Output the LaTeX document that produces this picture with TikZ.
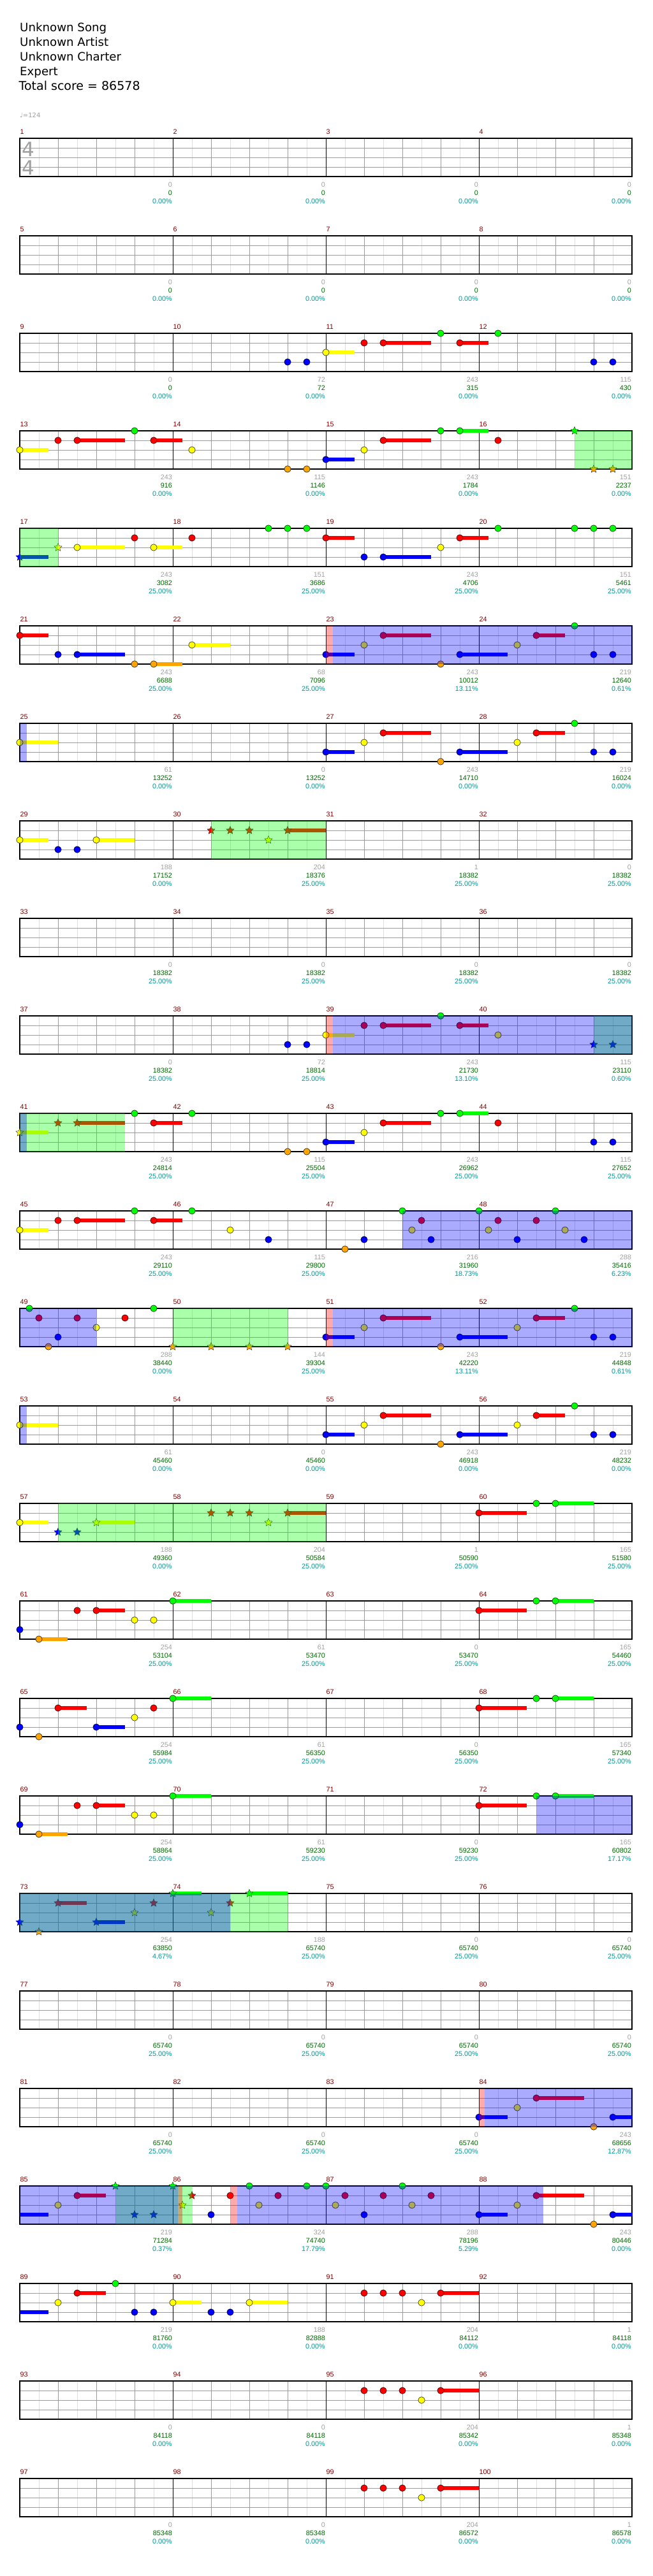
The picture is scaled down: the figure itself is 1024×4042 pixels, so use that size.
\documentclass[tikz,border=0pt]{standalone}
\usepackage{fontspec}
\setmainfont{DejaVu Sans}
\newfontfamily\numfont{Liberation Sans}
\usepackage{xcolor}
\usepackage{tikz}
\usetikzlibrary{shapes.geometric}
\definecolor{gg}{RGB}{0,255,0}
\definecolor{gr}{RGB}{255,0,0}
\definecolor{gy}{RGB}{255,255,0}
\definecolor{gb}{RGB}{0,0,255}
\definecolor{go}{RGB}{255,165,0}
\definecolor{barred}{RGB}{128,0,0}
\definecolor{gaingray}{RGB}{160,160,160}
\definecolor{totalgreen}{RGB}{0,100,0}
\definecolor{pctteal}{RGB}{0,150,150}

\tikzset{
  header/.style={anchor=base west, inner sep=0pt, font=\fontsize{18.2}{22}\selectfont},
  tempo/.style={anchor=base west, inner sep=0pt, text=gaingray, font=\fontsize{10}{12}\selectfont},
  timesig/.style={anchor=base west, inner sep=0pt, text=gaingray, font=\fontsize{31}{31}\selectfont},
  halfline/.style={draw={rgb,255:red,222;green,222;blue,222}, line width=0.9pt},
  beatline/.style={draw={rgb,255:red,155;green,155;blue,155}, line width=0.9pt},
  laneline/.style={draw={rgb,255:red,155;green,155;blue,155}, line width=0.9pt},
  barline/.style={draw=black, line width=0.9pt},
  staffbox/.style={draw=black, line width=1.3pt},
  gem/.style={draw=black, line width=0.5pt},
  starnote/.style={star, star points=5, star point ratio=2.2, minimum size=13pt,
    inner sep=0pt, draw=black!85, line width=0.4pt},
  spfill/.style={fill=gg, fill opacity=0.333},
  odfill/.style={fill=gb, fill opacity=0.333},
  odstartfill/.style={fill=gr, fill opacity=0.333},
  barnum/.style={anchor=base west, inner sep=0pt, text=barred, font=\numfont\fontsize{10.8}{12}\selectfont},
  ptsgain/.style={anchor=base east, inner sep=0pt, text=gaingray, font=\numfont\fontsize{10.8}{12}\selectfont},
  ptstotal/.style={anchor=base east, inner sep=0pt, text=totalgreen, font=\numfont\fontsize{10.8}{12}\selectfont},
  ptspct/.style={anchor=base east, inner sep=0pt, text=pctteal, font=\numfont\fontsize{10.8}{12}\selectfont},
}

% one eighth = 30, one lane = 15
\newcommand{\tails}[1]{\foreach \a/\b/\l/\c in {#1}
  \fill[\c] ({30*\a},{15*\l-3.4}) rectangle ({30*\b},{15*\l+3.4});}
\newcommand{\gems}[1]{\foreach \e/\l/\c in {#1}
  \filldraw[gem, fill=\c] ({30*\e},{15*\l}) circle (5.2);}
\newcommand{\stars}[2]{\foreach \e/\l/\c [count=\i] in {#2}
  \node[starnote, fill=\c] (star#1-\i) at ({30*\e},{15*\l}) {};}
\newcommand{\spzone}[2]{\fill[spfill] ({30*#1},0) rectangle ({30*#2},60);}
\newcommand{\odzone}[2]{\fill[odfill] ({30*#1},0) rectangle ({30*#2},60);}
\newcommand{\odstart}[2]{\fill[odstartfill] ({30*#1},0) rectangle ({30*#2},60);}

\begin{document}
\begin{tikzpicture}[x=1pt, y=-1pt]
  \useasboundingbox (0,0) rectangle (1024,4042);
  \fill[white] (0,0) rectangle (1024,4042);

  % Song info
  \node[header] (song) at (31,49) {Unknown Song};
  \node[header] (artist) at (31,72) {Unknown Artist};
  \node[header] (charter) at (31,95) {Unknown Charter};
  \node[header] (level) at (31,118) {Expert};
  \node[header, font=\fontsize{19}{23}\selectfont] (total) at (29.5,141) {Total score = 86578};
  \node[tempo] (bpm) at (31,184) {♩=124};

  % Staves
  \foreach \r in {0,...,24}{
    \begin{scope}[shift={(31,{217+153*\r})}]
      \foreach \k in {0,...,15} \draw[halfline] ({60*\k+30},0) -- ({60*\k+30},60);
      \foreach \k in {1,...,15} \draw[beatline] ({60*\k},0) -- ({60*\k},60);
      \foreach \k in {1,2,3} \draw[laneline] (0,{15*\k}) -- (960,{15*\k});
      \foreach \k in {1,2,3} \draw[barline] ({240*\k},0) -- ({240*\k},60);
      \draw[staffbox] (0,0) rectangle (960,60);
    \end{scope}
  }
  \node[timesig] (tsupper) at (34,245) {4};
  \node[timesig] (tslower) at (34,274) {4};

  % Measure numbers and scores
  \foreach \m/\gain/\sum/\pct in {
    1/0/0/0.00, 2/0/0/0.00, 3/0/0/0.00, 4/0/0/0.00,
    5/0/0/0.00, 6/0/0/0.00, 7/0/0/0.00, 8/0/0/0.00,
    9/0/0/0.00, 10/72/72/0.00, 11/243/315/0.00, 12/115/430/0.00,
    13/243/916/0.00, 14/115/1146/0.00, 15/243/1784/0.00, 16/151/2237/0.00,
    17/243/3082/25.00, 18/151/3686/25.00, 19/243/4706/25.00, 20/151/5461/25.00,
    21/243/6688/25.00, 22/68/7096/25.00, 23/243/10012/13.11, 24/219/12640/0.61,
    25/61/13252/0.00, 26/0/13252/0.00, 27/243/14710/0.00, 28/219/16024/0.00,
    29/188/17152/0.00, 30/204/18376/25.00, 31/1/18382/25.00, 32/0/18382/25.00,
    33/0/18382/25.00, 34/0/18382/25.00, 35/0/18382/25.00, 36/0/18382/25.00,
    37/0/18382/25.00, 38/72/18814/25.00, 39/243/21730/13.10, 40/115/23110/0.60,
    41/243/24814/25.00, 42/115/25504/25.00, 43/243/26962/25.00, 44/115/27652/25.00,
    45/243/29110/25.00, 46/115/29800/25.00, 47/216/31960/18.73, 48/288/35416/6.23,
    49/288/38440/0.00, 50/144/39304/25.00, 51/243/42220/13.11, 52/219/44848/0.61,
    53/61/45460/0.00, 54/0/45460/0.00, 55/243/46918/0.00, 56/219/48232/0.00,
    57/188/49360/0.00, 58/204/50584/25.00, 59/1/50590/25.00, 60/165/51580/25.00,
    61/254/53104/25.00, 62/61/53470/25.00, 63/0/53470/25.00, 64/165/54460/25.00,
    65/254/55984/25.00, 66/61/56350/25.00, 67/0/56350/25.00, 68/165/57340/25.00,
    69/254/58864/25.00, 70/61/59230/25.00, 71/0/59230/25.00, 72/165/60802/17.17,
    73/254/63850/4.67, 74/188/65740/25.00, 75/0/65740/25.00, 76/0/65740/25.00,
    77/0/65740/25.00, 78/0/65740/25.00, 79/0/65740/25.00, 80/0/65740/25.00,
    81/0/65740/25.00, 82/0/65740/25.00, 83/0/65740/25.00, 84/243/68656/12.87,
    85/219/71284/0.37, 86/324/74740/17.79, 87/288/78196/5.29, 88/243/80446/0.00,
    89/219/81760/0.00, 90/188/82888/0.00, 91/204/84112/0.00, 92/1/84118/0.00,
    93/0/84118/0.00, 94/0/84118/0.00, 95/204/85342/0.00, 96/1/85348/0.00,
    97/0/85348/0.00, 98/0/85348/0.00, 99/204/86572/0.00, 100/1/86578/0.00}{
    \pgfmathtruncatemacro\row{(\m-1)/4}
    \pgfmathtruncatemacro\col{\m-1-4*\row}
    \node[barnum] (num\m) at ({31+240*\col+0.5},{217+153*\row-7}) {\m};
    \node[ptsgain] (gain\m) at ({31+240*(\col+1)-1},{217+153*\row+76}) {\gain};
    \node[ptstotal] (sum\m) at ({31+240*(\col+1)-1},{217+153*\row+89}) {\sum};
    \node[ptspct] (pct\m) at ({31+240*(\col+1)-1},{217+153*\row+102}) {\pct\%};
  }

  % Measures 9-12
  \begin{scope}[shift={(31,{217+153*2})}]
    \tails{16/17.5/2/gy, 19/21.5/1/gr, 23/24.5/1/gr}
    \gems{14/3/gb, 15/3/gb, 16/2/gy, 18/1/gr, 19/1/gr, 22/0/gg, 23/1/gr, 25/0/gg, 30/3/gb, 31/3/gb}
  \end{scope}

  % Measures 13-16
  \begin{scope}[shift={(31,{217+153*3})}]
    \tails{0/1.5/2/gy, 3/5.5/1/gr, 7/8.5/1/gr, 16/17.5/3/gb, 19/21.5/1/gr, 23/24.5/0/gg}
    \gems{0/2/gy, 2/1/gr, 3/1/gr, 6/0/gg, 7/1/gr, 9/2/gy, 14/4/go, 15/4/go, 16/3/gb, 18/2/gy, 19/1/gr, 22/0/gg, 23/0/gg, 25/1/gr}
    \stars{3}{29/0/gg, 30/4/go, 31/4/go}
    \spzone{29}{32}
  \end{scope}

  % Measures 17-20
  \begin{scope}[shift={(31,{217+153*4})}]
    \tails{0/1.5/3/gb, 3/5.5/2/gy, 7/8.5/2/gy, 16/17.5/1/gr, 19/21.5/3/gb, 23/24.5/1/gr}
    \gems{3/2/gy, 6/1/gr, 7/2/gy, 9/1/gr, 13/0/gg, 14/0/gg, 15/0/gg, 16/1/gr, 18/3/gb, 19/3/gb, 22/2/gy, 23/1/gr, 25/0/gg, 29/0/gg, 30/0/gg, 31/0/gg}
    \stars{4}{0/3/gb, 2/2/gy}
    \spzone{0}{2}
  \end{scope}

  % Measures 21-24
  \begin{scope}[shift={(31,{217+153*5})}]
    \tails{0/1.5/1/gr, 3/5.5/3/gb, 7/8.5/4/go, 9/11/2/gy, 16/17.5/3/gb, 19/21.5/1/gr, 23/25.5/3/gb, 27/28.5/1/gr}
    \gems{0/1/gr, 2/3/gb, 3/3/gb, 6/4/go, 7/4/go, 9/2/gy, 16/3/gb, 18/2/gy, 19/1/gr, 22/4/go, 23/3/gb, 26/2/gy, 27/1/gr, 29/0/gg, 30/3/gb, 31/3/gb}
    \odstart{16}{16.37}
    \odzone{16.37}{32}
  \end{scope}

  % Measures 25-28
  \begin{scope}[shift={(31,{217+153*6})}]
    \tails{0/2/2/gy, 16/17.5/3/gb, 19/21.5/1/gr, 23/25.5/3/gb, 27/28.5/1/gr}
    \gems{0/2/gy, 16/3/gb, 18/2/gy, 19/1/gr, 22/4/go, 23/3/gb, 26/2/gy, 27/1/gr, 29/0/gg, 30/3/gb, 31/3/gb}
    \odzone{0}{0.37}
  \end{scope}

  % Measures 29-32
  \begin{scope}[shift={(31,{217+153*7})}]
    \tails{0/1.5/2/gy, 4/6/2/gy, 14/16/1/gr}
    \gems{0/2/gy, 2/3/gb, 3/3/gb, 4/2/gy}
    \stars{7}{10/1/gr, 11/1/gr, 12/1/gr, 13/2/gy, 14/1/gr}
    \spzone{10}{16}
  \end{scope}

  % Measures 37-40
  \begin{scope}[shift={(31,{217+153*9})}]
    \tails{16/17.5/2/gy, 19/21.5/1/gr, 23/24.5/1/gr}
    \gems{14/3/gb, 15/3/gb, 16/2/gy, 18/1/gr, 19/1/gr, 22/0/gg, 23/1/gr, 25/2/gy}
    \stars{9}{30/3/gb, 31/3/gb}
    \spzone{30}{32}
    \odstart{16}{16.37}
    \odzone{16.37}{32}
  \end{scope}

  % Measures 41-44
  \begin{scope}[shift={(31,{217+153*10})}]
    \tails{0/1.5/2/gy, 3/5.5/1/gr, 7/8.5/1/gr, 16/17.5/3/gb, 19/21.5/1/gr, 23/24.5/0/gg}
    \gems{6/0/gg, 7/1/gr, 9/0/gg, 14/4/go, 15/4/go, 16/3/gb, 18/2/gy, 19/1/gr, 22/0/gg, 23/0/gg, 25/1/gr, 30/3/gb, 31/3/gb}
    \stars{10}{0/2/gy, 2/1/gr, 3/1/gr}
    \spzone{0}{5.5}
    \odzone{0}{0.37}
  \end{scope}

  % Measures 45-48
  \begin{scope}[shift={(31,{217+153*11})}]
    \tails{0/1.5/2/gy, 3/5.5/1/gr, 7/8.5/1/gr}
    \gems{0/2/gy, 2/1/gr, 3/1/gr, 6/0/gg, 7/1/gr, 9/0/gg, 11/2/gy, 13/3/gb, 17/4/go, 18/3/gb, 20/0/gg, 20.5/2/gy, 21/1/gr, 21.5/3/gb, 24/0/gg, 24.5/2/gy, 25/1/gr, 26/3/gb, 27/1/gr, 28/0/gg, 28.5/2/gy, 29.5/3/gb}
    \odzone{20}{32}
  \end{scope}

  % Measures 49-52
  \begin{scope}[shift={(31,{217+153*12})}]
    \tails{16/17.5/3/gb, 19/21.5/1/gr, 23/25.5/3/gb, 27/28.5/1/gr}
    \gems{0.5/0/gg, 1/1/gr, 1.5/4/go, 2/3/gb, 3/1/gr, 4/2/gy, 5.5/1/gr, 7/0/gg, 16/3/gb, 18/2/gy, 19/1/gr, 22/4/go, 23/3/gb, 26/2/gy, 27/1/gr, 29/0/gg, 30/3/gb, 31/3/gb}
    \stars{12}{8/4/go, 10/4/go, 12/4/go, 14/4/go}
    \spzone{8}{14}
    \odzone{0}{4}
    \odstart{16}{16.37}
    \odzone{16.37}{32}
  \end{scope}

  % Measures 53-56
  \begin{scope}[shift={(31,{217+153*13})}]
    \tails{0/2/2/gy, 16/17.5/3/gb, 19/21.5/1/gr, 23/25.5/3/gb, 27/28.5/1/gr}
    \gems{0/2/gy, 16/3/gb, 18/2/gy, 19/1/gr, 22/4/go, 23/3/gb, 26/2/gy, 27/1/gr, 29/0/gg, 30/3/gb, 31/3/gb}
    \odzone{0}{0.35}
  \end{scope}

  % Measures 57-60
  \begin{scope}[shift={(31,{217+153*14})}]
    \tails{0/1.5/2/gy, 4/6/2/gy, 14/16/1/gr, 24/26.5/1/gr, 28/30/0/gg}
    \gems{0/2/gy, 24/1/gr, 27/0/gg, 28/0/gg}
    \stars{14}{2/3/gb, 3/3/gb, 4/2/gy, 10/1/gr, 11/1/gr, 12/1/gr, 13/2/gy, 14/1/gr}
    \spzone{2}{16}
  \end{scope}

  % Measures 61-64
  \begin{scope}[shift={(31,{217+153*15})}]
    \tails{1/2.5/4/go, 4/5.5/1/gr, 8/10/0/gg, 24/26.5/1/gr, 28/30/0/gg}
    \gems{0/3/gb, 1/4/go, 3/1/gr, 4/1/gr, 6/2/gy, 7/2/gy, 8/0/gg, 24/1/gr, 27/0/gg, 28/0/gg}
  \end{scope}

  % Measures 65-68
  \begin{scope}[shift={(31,{217+153*16})}]
    \tails{2/3.5/1/gr, 4/5.5/3/gb, 8/10/0/gg, 24/26.5/1/gr, 28/30/0/gg}
    \gems{0/3/gb, 1/4/go, 2/1/gr, 4/3/gb, 6/2/gy, 7/1/gr, 8/0/gg, 24/1/gr, 27/0/gg, 28/0/gg}
  \end{scope}

  % Measures 69-72
  \begin{scope}[shift={(31,{217+153*17})}]
    \tails{1/2.5/4/go, 4/5.5/1/gr, 8/10/0/gg, 24/26.5/1/gr, 28/30/0/gg}
    \gems{0/3/gb, 1/4/go, 3/1/gr, 4/1/gr, 6/2/gy, 7/2/gy, 8/0/gg, 24/1/gr, 27/0/gg, 28/0/gg}
    \odzone{27}{32}
  \end{scope}

  % Measures 73-76
  \begin{scope}[shift={(31,{217+153*18})}]
    \tails{2/3.5/1/gr, 4/5.5/3/gb, 8/9.5/0/gg, 12/14/0/gg}
    \stars{18}{0/3/gb, 1/4/go, 2/1/gr, 4/3/gb, 6/2/gy, 7/1/gr, 8/0/gg, 10/2/gy, 11/1/gr, 12/0/gg}
    \spzone{0}{14}
    \odzone{0}{11}
  \end{scope}

  % Measures 81-84
  \begin{scope}[shift={(31,{217+153*20})}]
    \tails{24/25.5/3/gb, 27/29.5/1/gr, 31/32/3/gb}
    \gems{24/3/gb, 26/2/gy, 27/1/gr, 30/4/go, 31/3/gb}
    \odstart{24}{24.3}
    \odzone{24.3}{32}
  \end{scope}

  % Measures 85-88
  \begin{scope}[shift={(31,{217+153*21})}]
    \tails{0/1.5/3/gb, 3/4.5/1/gr, 24/25.5/3/gb, 27/29.5/1/gr, 31/32/3/gb}
    \gems{2/2/gy, 3/1/gr, 10/3/gb, 11/1/gr, 12/0/gg, 12.5/2/gy, 13.5/1/gr, 15/0/gg, 16/0/gg, 16.5/2/gy, 17/1/gr, 18/3/gb, 19/1/gr, 20/0/gg, 20.5/2/gy, 21.5/1/gr, 24/3/gb, 26/2/gy, 27/1/gr, 30/4/go, 31/3/gb}
    \stars{21}{5/0/gg, 6/3/gb, 7/3/gb, 8/0/gg, 8.5/2/gy, 9/1/gr}
    \spzone{5}{9}
    \odstart{8.25}{8.5}
    \odstart{11}{11.37}
    \odzone{0}{8.25}
    \odzone{11.37}{27.37}
  \end{scope}

  % Measures 89-92
  \begin{scope}[shift={(31,{217+153*22})}]
    \tails{0/1.5/3/gb, 3/4.5/1/gr, 8/9.5/2/gy, 12/14/2/gy, 22/24/1/gr}
    \gems{2/2/gy, 3/1/gr, 5/0/gg, 6/3/gb, 7/3/gb, 8/2/gy, 10/3/gb, 11/3/gb, 12/2/gy, 18/1/gr, 19/1/gr, 20/1/gr, 21/2/gy, 22/1/gr}
  \end{scope}

  % Measures 93-96 and 97-100
  \foreach \r in {23,24}{
    \begin{scope}[shift={(31,{217+153*\r})}]
      \tails{22/24/1/gr}
      \gems{18/1/gr, 19/1/gr, 20/1/gr, 21/2/gy, 22/1/gr}
    \end{scope}
  }
\end{tikzpicture}
\end{document}
